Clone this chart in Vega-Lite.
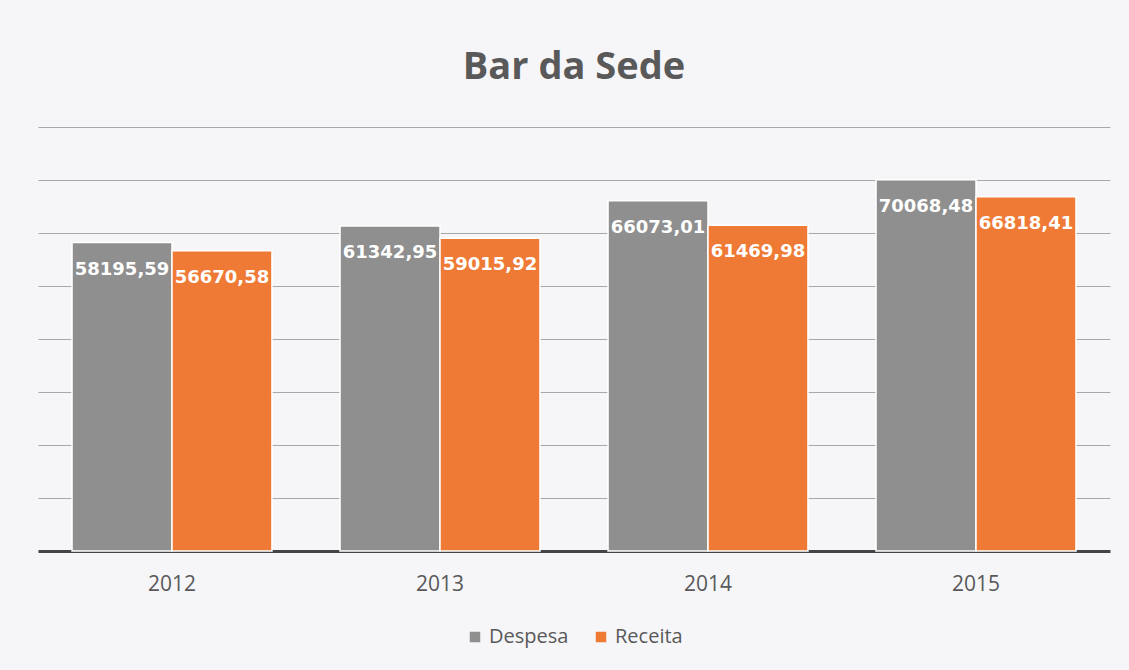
{
  "$schema": "https://vega.github.io/schema/vega-lite/v6.json",
  "width": 1072,
  "height": 424,
  "autosize": {"type": "none"},
  "padding": {"left": 38, "top": 127, "right": 19, "bottom": 119},
  "background": "#f6f6f9",
  "title": {"text": "Bar da Sede", "font": "Open Sans", "fontSize": 38, "fontWeight": "bold", "color": "#595959", "anchor": "middle", "offset": 40},
  "config": {
    "view": {"stroke": null},
    "legend": {"layout": {"bottom": {"anchor": "middle"}}},
    "locale": {"number": {"decimal": ",", "thousands": ".", "grouping": [3], "currency": ["", ""]}}
  },
  "data": {"values": [
    {"ano": "2012", "serie": "Despesa", "valor": 58195.59},
    {"ano": "2012", "serie": "Receita", "valor": 56670.58},
    {"ano": "2013", "serie": "Despesa", "valor": 61342.95},
    {"ano": "2013", "serie": "Receita", "valor": 59015.92},
    {"ano": "2014", "serie": "Despesa", "valor": 66073.01},
    {"ano": "2014", "serie": "Receita", "valor": 61469.98},
    {"ano": "2015", "serie": "Despesa", "valor": 70068.48},
    {"ano": "2015", "serie": "Receita", "valor": 66818.41}
  ]},
  "encoding": {
    "x": {"field": "ano", "type": "nominal", "scale": {"paddingInner": 0.254, "paddingOuter": 0.127},
      "axis": {"title": null, "labelAngle": 0, "labelFont": "Open Sans", "labelFontSize": 21, "labelColor": "#595959", "labelPadding": 22, "ticks": false, "domain": true, "domainColor": "#454545", "domainWidth": 3, "grid": false}},
    "xOffset": {"field": "serie", "type": "nominal", "sort": ["Despesa", "Receita"], "scale": {"paddingInner": 0}},
    "y": {"field": "valor", "type": "quantitative", "scale": {"domain": [0, 80000], "nice": false},
      "axis": {"title": null, "labels": false, "ticks": false, "domain": false, "grid": true, "gridColor": "#a8a8a8", "gridWidth": 1.2, "values": [10000, 20000, 30000, 40000, 50000, 60000, 70000, 80000]}}
  },
  "layer": [
    {
      "mark": {"type": "bar", "stroke": "#ffffff", "strokeWidth": 1.5},
      "encoding": {
        "color": {"field": "serie", "type": "nominal", "scale": {"domain": ["Despesa", "Receita"], "range": ["#8f8f8f", "#ef7a35"]},
          "legend": {"title": null, "orient": "bottom", "direction": "horizontal", "symbolType": "square", "symbolSize": 110, "symbolStrokeWidth": 0, "labelFont": "Open Sans", "labelFontSize": 20, "labelColor": "#595959", "columnPadding": 22, "offset": 33}}
      }
    },
    {
      "mark": {"type": "text", "baseline": "middle", "align": "center", "dy": 27, "font": "DejaVu Sans", "fontWeight": "bold", "fontSize": 18, "color": "#ffffff"},
      "encoding": {
        "text": {"field": "valor", "type": "quantitative", "format": ".2f"}
      }
    }
  ]
}
